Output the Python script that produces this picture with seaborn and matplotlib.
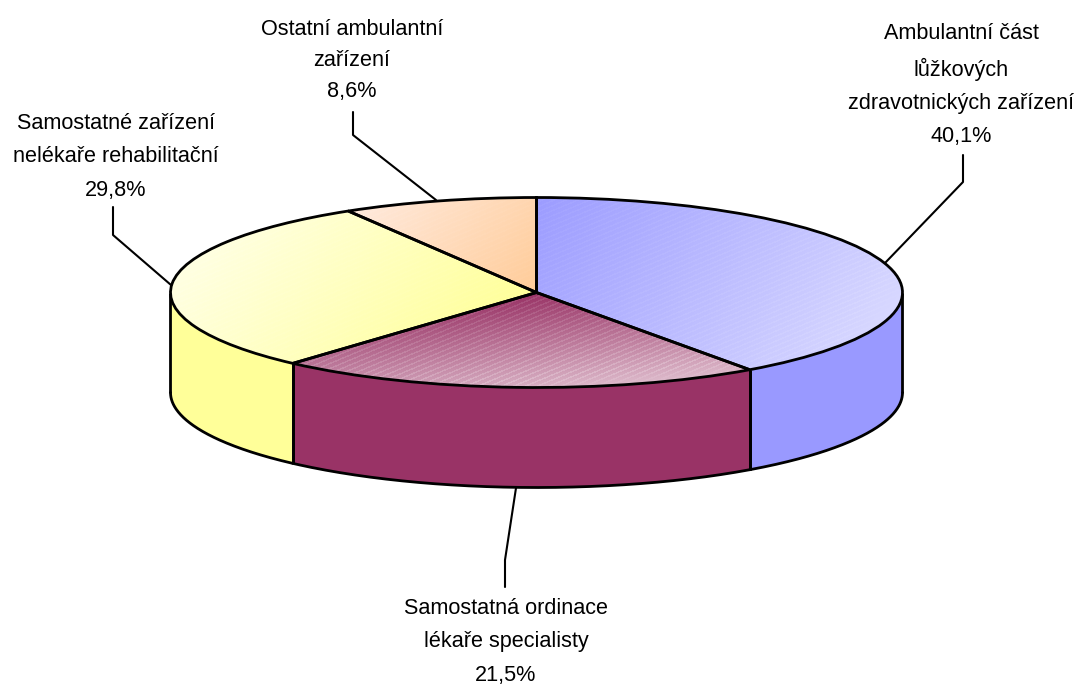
import numpy as np
import matplotlib
matplotlib.use('Agg')
import matplotlib.pyplot as plt
from matplotlib.colors import LinearSegmentedColormap
import seaborn as sns

sns.set_theme(style='white')
plt.rcParams['font.family'] = ['Liberation Sans', 'DejaVu Sans']

# Data
labels = ['Ambulantní část\nlůžkových\nzdravotnických zařízení',
          'Samostatná ordinace\nlékaře specialisty',
          'Samostatné zařízení\nnelékaře rehabilitační',
          'Ostatní ambulantní\nzařízení']
shares = [40.1, 21.5, 29.8, 8.6]
side_colors = ['#9999FF', '#993366', '#FFFF99', '#FFCC99']

# gradient ends of the top faces: dark end, light end, direction, stripe strength
grad_dark = ['#9C9CFF', '#993366', '#FFFF99', '#FFCC99']
grad_light = ['#D8D8FF', '#DDBACB', '#FFFFE2', '#FFEADD']
grad_dir = [(0.8, -0.6), (0.1, -1.0), (-0.75, 0.65), (-0.75, 0.65)]
stripe_amp = [0.035, 0.07, 0.02, 0.02]

# Layout, in pixels of the 1084x689 picture
W, H = 1084, 689
CX, CY = 536.5, 292.5
RX, RY = 366, 95
DEPTH = 100 / RY
LW = 2.0
label_pos = [(961, 85), (506, 642), (116, 157), (352, 60.5)]
label_spacing = [1.76, 1.76, 1.8, 1.6]
leaders = [[(963, 155), (963, 182), (885, 263)],
           [(505, 587), (505, 560), (516, 488)],
           [(113, 207), (113, 235), (171, 285)],
           [(353, 112), (353, 135), (436, 200)]]

fig = plt.figure(figsize=(W / 100, H / 100), dpi=100)
ax = fig.add_axes([0, 0, 1, 1])

wedges, _ = ax.pie(shares, colors=side_colors, startangle=90, counterclock=False,
                   radius=1, center=(0, 0), normalize=True,
                   wedgeprops={'edgecolor': 'black', 'linewidth': LW, 'zorder': 4})
ax.axis('off')

# Sides of the disc, only the front half can be seen
edges = np.concatenate([[0], np.cumsum(shares)]) / np.sum(shares) * 2 * np.pi
for i in range(len(shares)):
    a0, a1 = max(edges[i], np.pi / 2), min(edges[i + 1], 1.5 * np.pi)
    if a1 <= a0:
        continue
    t = np.linspace(a0, a1, 200)
    x, y = np.sin(t), np.cos(t)
    ax.fill_between(x, y, y - DEPTH, color=side_colors[i], lw=0, zorder=1)
    ax.plot(x, y - DEPTH, color='black', lw=LW, zorder=2)
    for e in (a0, a1):
        ax.plot([np.sin(e)] * 2, [np.cos(e), np.cos(e) - DEPTH], color='black', lw=LW,
                zorder=2, solid_capstyle='butt')

# Top faces, gradient with fine stripes clipped by each wedge
gx, gy = np.meshgrid(np.linspace(-1, 1, 2 * RX), np.linspace(1, -1, 2 * RY))
px, py = gx * RX, gy * RY
for i, w in enumerate(wedges):
    cmap = LinearSegmentedColormap.from_list('g%d' % i, [grad_dark[i], grad_light[i]])
    t = np.linspace(edges[i], edges[i + 1], 100)
    bx = np.concatenate([[0], np.sin(t)]) * RX
    by = np.concatenate([[0], np.cos(t)]) * RY
    d = px * grad_dir[i][0] + py * grad_dir[i][1]
    pd = bx * grad_dir[i][0] + by * grad_dir[i][1]
    v = (d - pd.min()) / (pd.max() - pd.min())
    stripes = ((py - 0.42 * px) % 5 < 1.6) * stripe_amp[i] * 2
    img = np.clip(v + stripes, 0, 1)
    im = ax.imshow(img, extent=[-1, 1, -1, 1], cmap=cmap, vmin=0, vmax=1, aspect='auto',
                   interpolation='antialiased', zorder=3)
    im.set_clip_path(w)
    w.set_facecolor('none')
ax.set_aspect('auto')
ax.set_xlim(-CX / RX, (W - CX) / RX)
ax.set_ylim(-(H - CY) / RY, CY / RY)

# Labels and leader lines go in a pixel overlay
ov = fig.add_axes([0, 0, 1, 1], facecolor='none')
ov.set_xlim(0, W)
ov.set_ylim(H, 0)
ov.axis('off')
for lab, val, pos, pts, sp in zip(labels, shares, label_pos, leaders, label_spacing):
    txt = lab + '\n' + ('%.1f%%' % val).replace('.', ',')
    ov.text(pos[0], pos[1], txt, ha='center', va='center', ma='center', fontsize=15.6,
            color='black', linespacing=sp)
    ov.plot([p[0] for p in pts], [p[1] for p in pts], color='black', lw=1.5)

fig.savefig('out.png', dpi=100)
